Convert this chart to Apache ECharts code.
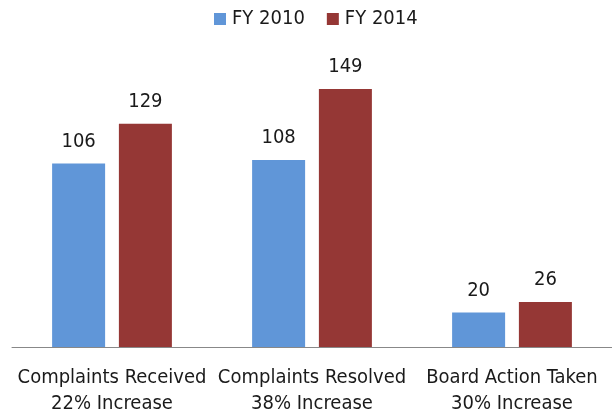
<!DOCTYPE html>
<html>
<head>
<meta charset="utf-8">
<script src="https://cdn.jsdelivr.net/npm/echarts@6/dist/echarts.min.js"></script>
<style>
  html, body { margin: 0; padding: 0; background: #fff; }
  #chart { width: 612px; height: 420px; }
</style>
</head>
<body>
<div id="chart"></div>
<script>
const categories = ['Complaints Received\n22% Increase', 'Complaints Resolved\n38% Increase', 'Board Action Taken\n30% Increase']
const fy2010 = [106, 108, 20]
const fy2014 = [129, 149, 26]

const FONT = '"Liberation Sans Narrow", "DejaVu Sans Condensed", sans-serif'

const chart = echarts.init(document.getElementById('chart'))

const option = {
  animation: false,
  textStyle: { fontFamily: FONT },
  legend: {
    top: 4,
    left: 209,
    itemWidth: 12,
    itemHeight: 12,
    itemGap: 22,
    icon: 'rect',
    textStyle: { fontSize: 20, color: '#1a1a1a', fontFamily: FONT, padding: [0, 0, 0, 1] },
    data: ['FY 2010', 'FY 2014']
  },
  grid: { left: 12, right: 0, top: 70, bottom: 73 },
  xAxis: {
    type: 'category',
    data: categories,
    axisLine: { lineStyle: { color: '#888', width: 1 } },
    axisTick: { show: false },
    axisLabel: {
      fontSize: 20,
      color: '#1a1a1a',
      lineHeight: 26,
      margin: 18,
      fontFamily: FONT,
      interval: 0
    }
  },
  yAxis: {
    type: 'value',
    min: 0,
    max: 160,
    show: false
  },
  series: [
    {
      name: 'FY 2010',
      type: 'bar',
      data: fy2010,
      barWidth: 53,
      barGap: '26%',
      itemStyle: { color: '#6096d8' },
      label: { show: true, position: 'top', distance: 12, fontSize: 20, color: '#1a1a1a', fontFamily: FONT }
    },
    {
      name: 'FY 2014',
      type: 'bar',
      data: fy2014,
      barWidth: 53,
      itemStyle: { color: '#953735' },
      label: { show: true, position: 'top', distance: 12, fontSize: 20, color: '#1a1a1a', fontFamily: FONT }
    }
  ]
}

chart.setOption(option)
</script>
</body>
</html>
